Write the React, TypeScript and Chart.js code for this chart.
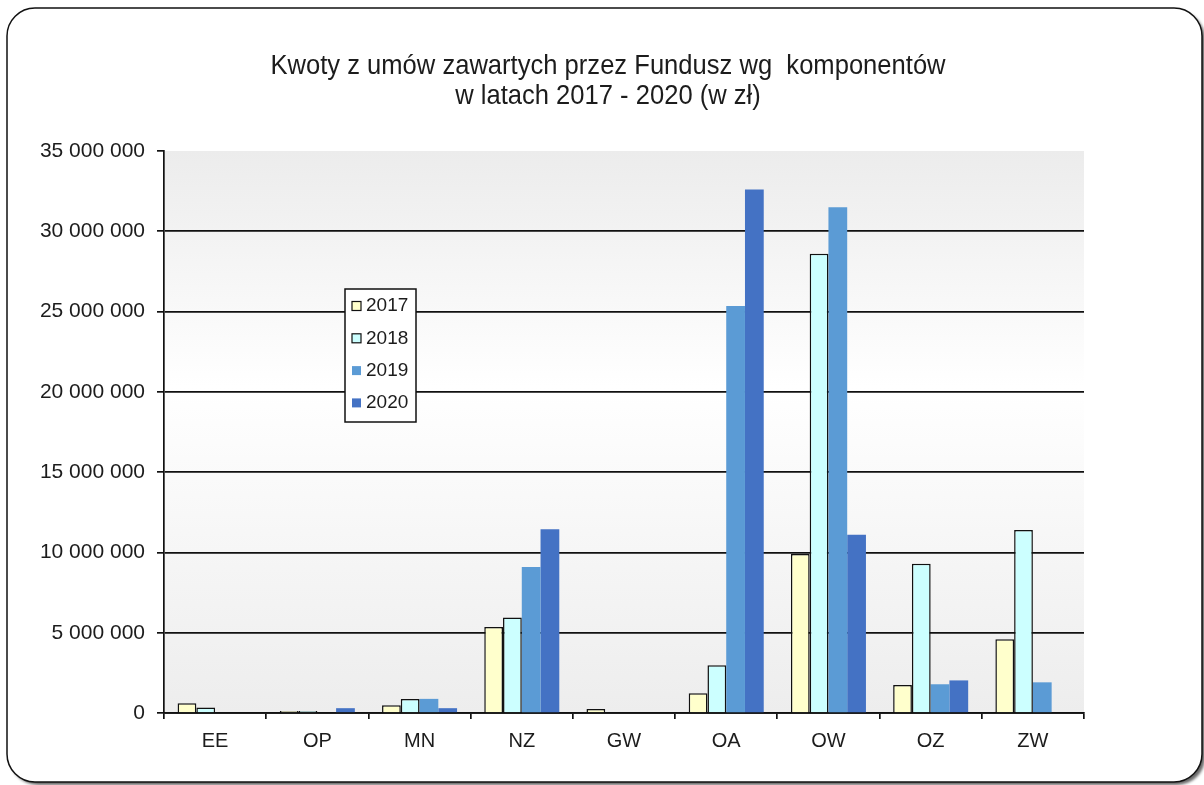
import React, { useEffect, useRef } from 'react';
import { Chart, registerables } from 'chart.js';

Chart.register(...registerables);

const categories = ['EE', 'OP', 'MN', 'NZ', 'GW', 'OA', 'OW', 'OZ', 'ZW'];
const seriesLabels = ['2017', '2018', '2019', '2020'];
const values2017 = [600000, 130000, 480000, 5350000, 250000, 1230000, 9900000, 1740000, 4600000];
const values2018 = [350000, 130000, 870000, 5950000, 0, 2970000, 28600000, 9300000, 11400000];
const values2019 = [0, 0, 880000, 9100000, 0, 25350000, 31500000, 1790000, 1910000];
const values2020 = [0, 300000, 300000, 11450000, 0, 32600000, 11100000, 2030000, 0];
const titleLines = ['Kwoty z umów zawartych przez Fundusz wg  komponentów', 'w latach 2017 - 2020 (w zł)'];
const yMax = 35000000;
const yStep = 5000000;

const FONT = "'Liberation Sans', Arial, sans-serif";
const TEXT = '#1c1c1c';

const fmt = (v: number) => String(v).replace(/\B(?=(\d{3})+(?!\d))/g, ' ');

const framePlugin = {
  id: 'frameAndBg',
  beforeDraw(chart: any) {
    const ctx = chart.ctx;
    const { left, right, top, bottom } = chart.chartArea;
    ctx.save();
    ctx.fillStyle = '#ffffff';
    ctx.fillRect(0, 0, chart.width, chart.height);
    // rounded frame with shadow
    ctx.beginPath();
    ctx.roundRect(7, 8, 1195, 774, 28);
    ctx.shadowColor = 'rgba(0,0,0,0.6)';
    ctx.shadowOffsetX = 3;
    ctx.shadowOffsetY = 3;
    ctx.shadowBlur = 3;
    ctx.fillStyle = '#ffffff';
    ctx.fill();
    ctx.shadowColor = 'rgba(0,0,0,0)';
    ctx.lineWidth = 1.5;
    ctx.strokeStyle = '#111111';
    ctx.stroke();
    // plot area gradient
    const g = ctx.createLinearGradient(0, top, 0, bottom);
    g.addColorStop(0, '#ececec');
    g.addColorStop(0.42, '#ffffff');
    g.addColorStop(1, '#ededed');
    ctx.fillStyle = g;
    ctx.fillRect(left, top, right - left, bottom - top);
    // title (slightly condensed)
    ctx.fillStyle = TEXT;
    ctx.font = `27.5px ${FONT}`;
    ctx.textAlign = 'center';
    ctx.textBaseline = 'middle';
    ctx.translate(608, 0);
    ctx.scale(0.93, 1);
    ctx.fillText(titleLines[0], 0, 66);
    ctx.fillText(titleLines[1], 0, 96);
    ctx.restore();
  },
};

const legendPlugin = {
  id: 'boxLegend',
  afterDraw(chart: any) {
    const ctx = chart.ctx;
    const x = 345, y = 289, w = 71, h = 133;
    ctx.save();
    ctx.fillStyle = '#ffffff';
    ctx.fillRect(x, y, w, h);
    ctx.lineWidth = 1.5;
    ctx.strokeStyle = '#111111';
    ctx.strokeRect(x, y, w, h);
    ctx.font = `19px ${FONT}`;
    ctx.textAlign = 'left';
    ctx.textBaseline = 'middle';
    chart.data.datasets.forEach((ds: any, i: number) => {
      const cy = y + 17 + i * 32.3;
      ctx.fillStyle = ds.backgroundColor;
      ctx.fillRect(352, cy - 4.5, 9, 9);
      if (ds.borderWidth > 0) {
        ctx.lineWidth = 1.2;
        ctx.strokeStyle = '#111111';
        ctx.strokeRect(352, cy - 4.5, 9, 9);
      }
      ctx.fillStyle = TEXT;
      ctx.fillText(ds.label, 366, cy);
    });
    ctx.restore();
  },
};

export default function App() {
  const ref = useRef<HTMLCanvasElement>(null);

  useEffect(() => {
    if (!ref.current) return;
    Chart.defaults.font.family = FONT;
    const seriesValues = [values2017, values2018, values2019, values2020];
    const colors = ['#FFFFCC', '#CCFFFF', '#5B9BD5', '#4472C4'];
    const borders = [1.5, 1.5, 0, 0];
    const chart = new Chart(ref.current, {
      type: 'bar',
      data: {
        labels: categories,
        datasets: seriesLabels.map((label, i) => ({
          label,
          data: seriesValues[i],
          backgroundColor: colors[i],
          borderColor: '#111111',
          borderWidth: borders[i],
          borderSkipped: 'bottom',
          categoryPercentage: 0.734,
          barPercentage: 1,
        })),
      },
      options: {
        responsive: false,
        animation: false,
        devicePixelRatio: 1,
        layout: { padding: { left: 0, right: 120, top: 151, bottom: 0 } },
        plugins: {
          legend: { display: false },
          title: { display: false },
          tooltip: { enabled: false },
        },
        scales: {
          x: {
            afterFit: (s: any) => { s.height = 72; },
            border: { display: true, color: '#111111', width: 1.7 },
            grid: {
              display: true,
              drawOnChartArea: false,
              drawTicks: true,
              tickLength: 6,
              color: '#111111',
              lineWidth: 1.7,
              offset: true,
            },
            ticks: {
              color: TEXT,
              font: { size: 20, family: FONT },
              padding: 10,
              maxRotation: 0,
              autoSkip: false,
            },
          },
          y: {
            min: 0,
            max: yMax,
            afterFit: (s: any) => { s.width = 164; },
            border: { display: true, color: '#111111', width: 1.7 },
            grid: {
              color: (c: any) => (c.tick && c.tick.value === yMax ? 'rgba(0,0,0,0)' : '#111111'),
              tickColor: '#111111',
              lineWidth: 1.7,
              tickLength: 7,
            },
            ticks: {
              stepSize: yStep,
              color: TEXT,
              font: { size: 21, family: FONT },
              padding: 12,
              callback: (v: any) => fmt(Number(v)),
            },
          },
        },
      },
      plugins: [framePlugin, legendPlugin],
    });
    return () => chart.destroy();
  }, []);

  return (
    <div style={{ position: 'fixed', left: 0, top: 0, width: 1204, height: 785 }}>
      <canvas ref={ref} width={1204} height={785} style={{ display: 'block' }} />
    </div>
  );
}
